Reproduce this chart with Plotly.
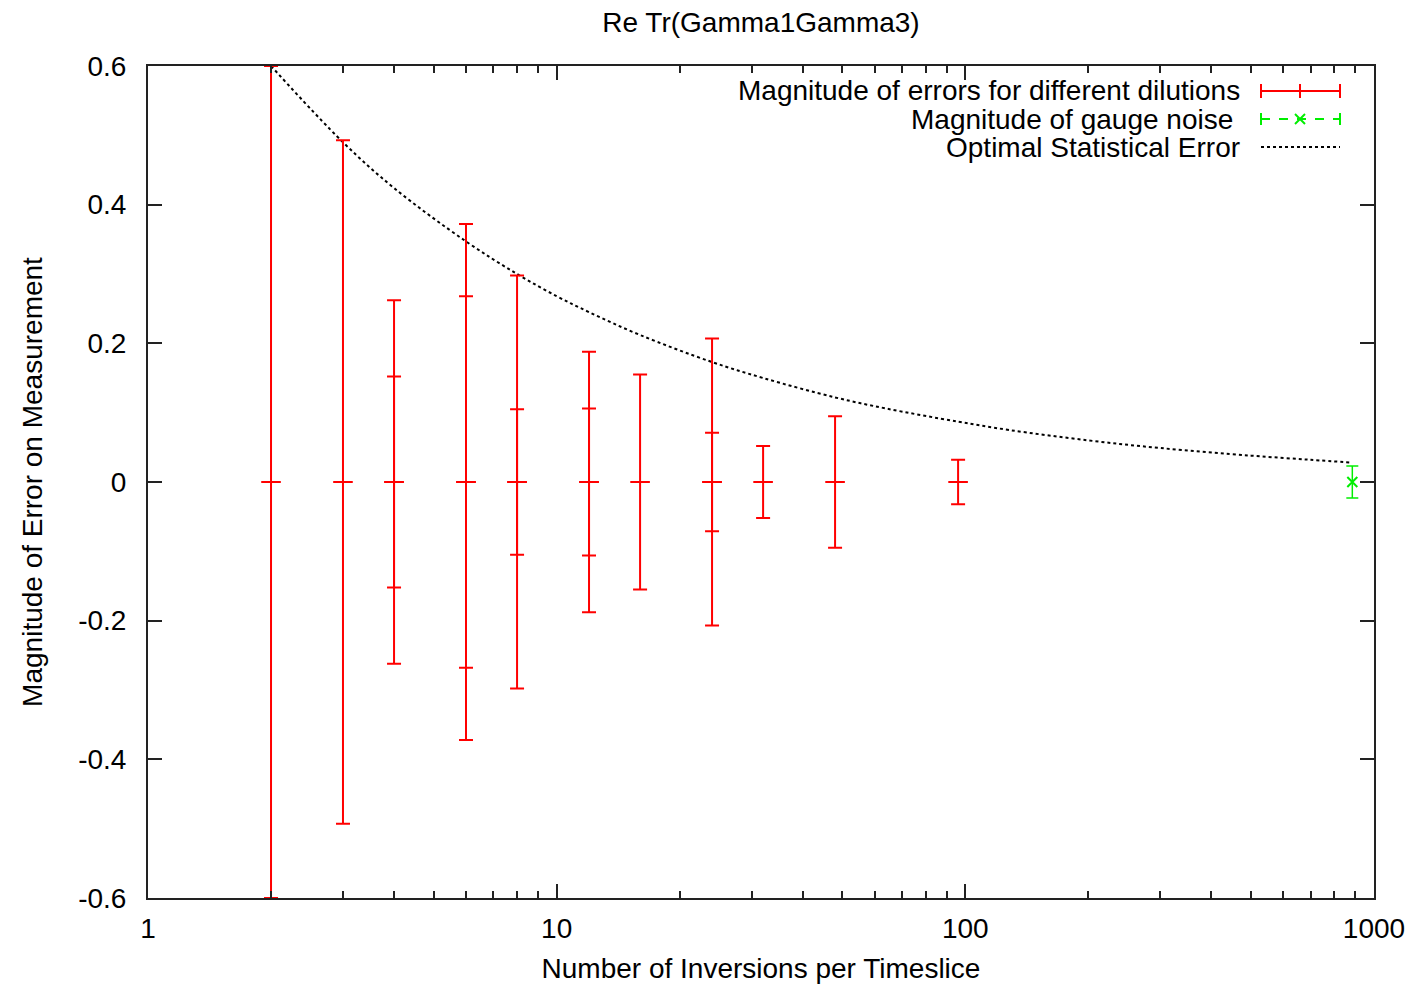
import plotly.graph_objects as go

# Dilution schemes: inversions per timeslice and their error magnitudes
dil_x = [2, 3, 4, 6, 8, 12, 16, 24, 32, 48, 96]
dil_err_outer = [0.60, 0.493, 0.262, 0.372, 0.298, 0.188, 0.155, 0.207, 0.052, 0.095, 0.032]
# second, smaller error for schemes that have one
dil2_x = [4, 6, 8, 12, 24]
dil2_err = [0.152, 0.268, 0.105, 0.106, 0.071]

# gauge noise
gauge_x = [885]
gauge_err = [0.023]

# optimal statistical error curve
opt_x = [2, 3, 4, 6, 8, 10, 12, 16, 24, 32, 48, 64, 96, 128, 200, 300, 500, 700, 885]
opt_y = [0.600, 0.490, 0.424, 0.347, 0.300, 0.268, 0.245, 0.212, 0.173, 0.150, 0.122,
         0.106, 0.087, 0.075, 0.060, 0.049, 0.038, 0.032, 0.028]

xtick_vals = [1, 10, 100, 1000]
xtick_text = ["1", "10", "100", "1000"]
xminor_vals = [m * d for d in (1, 10, 100) for m in range(2, 10)]
ytick_vals = [-0.6, -0.4, -0.2, 0, 0.2, 0.4, 0.6]
ytick_text = ["-0.6", "-0.4", "-0.2", "0", "0.2", "0.4", "0.6"]

FONT = "Liberation Sans, Arial, sans-serif"
FS = 28
RED = "#ff0000"
GREEN = "#00ee00"

W, H = 1422, 995
L, R, T, B = 148, 1374, 66, 898


def px(x):
    return (x - L) / (R - L)


def py(y):
    return (B - y) / (B - T)


fig = go.Figure()

fig.add_trace(go.Scatter(
    x=opt_x, y=opt_y, mode="lines", line=dict(color="black", width=2, dash="dot"),
    line_shape="spline", showlegend=False, hoverinfo="skip"))

fig.add_trace(go.Scatter(
    x=dil_x, y=[0] * len(dil_x), mode="markers",
    marker=dict(symbol="line-ew-open", size=14, line=dict(color=RED, width=2), color=RED),
    error_y=dict(type="data", array=dil_err_outer, symmetric=True, color=RED, thickness=2, width=7),
    showlegend=False))

fig.add_trace(go.Scatter(
    x=dil2_x, y=[0] * len(dil2_x), mode="markers",
    marker=dict(symbol="line-ew-open", size=14, line=dict(color=RED, width=2), color=RED),
    error_y=dict(type="data", array=dil2_err, symmetric=True, color=RED, thickness=2, width=7),
    showlegend=False))

fig.add_trace(go.Scatter(
    x=gauge_x, y=[0] * len(gauge_x), mode="markers",
    marker=dict(symbol="x-thin-open", size=10, line=dict(color=GREEN, width=2), color=GREEN),
    error_y=dict(type="data", array=gauge_err, symmetric=True, color=GREEN, thickness=1.5, width=6),
    showlegend=False))

# key, drawn in the upper-right corner with text to the left of each sample
shapes = []
annotations = []
key_rows = [
    ("Magnitude of errors for different dilutions", 91, 1242),
    ("Magnitude of gauge noise", 119, 1235),
    ("Optimal Statistical Error", 147, 1242),
]
for text, yy, xr in key_rows:
    annotations.append(dict(
        x=px(xr), y=py(yy), xref="paper", yref="paper", text=text, showarrow=False,
        xanchor="right", yanchor="middle", font=dict(family=FONT, size=FS, color="black")))

x0, x1, xm = 1261, 1340, 1300
# red sample
shapes.append(dict(type="line", xref="paper", yref="paper", x0=px(x0), x1=px(x1), y0=py(91), y1=py(91),
                   line=dict(color=RED, width=2)))
for xx in (x0, xm, x1):
    shapes.append(dict(type="line", xref="paper", yref="paper", x0=px(xx), x1=px(xx), y0=py(84), y1=py(98),
                       line=dict(color=RED, width=2)))
# green sample
shapes.append(dict(type="line", xref="paper", yref="paper", x0=px(x0), x1=px(x1), y0=py(119), y1=py(119),
                   line=dict(color=GREEN, width=2, dash="dash")))
for xx in (x0, x1):
    shapes.append(dict(type="line", xref="paper", yref="paper", x0=px(xx), x1=px(xx), y0=py(113), y1=py(125),
                       line=dict(color=GREEN, width=2)))
for dx, dy in ((-5, -5), (-5, 5)):
    shapes.append(dict(type="line", xref="paper", yref="paper", x0=px(xm + dx), x1=px(xm - dx),
                       y0=py(119 + dy), y1=py(119 - dy), line=dict(color=GREEN, width=2)))
# black sample
shapes.append(dict(type="line", xref="paper", yref="paper", x0=px(x0), x1=px(x1), y0=py(147), y1=py(147),
                   line=dict(color="black", width=2, dash="dot")))

fig.update_layout(
    width=W, height=H,
    margin=dict(l=L, r=W - R, t=T, b=H - B),
    paper_bgcolor="white", plot_bgcolor="white",
    font=dict(family=FONT, size=FS, color="black"),
    title=dict(text="Re Tr(Gamma1Gamma3)", x=(L + R) / 2 / W, xanchor="center",
               y=1 - 22 / H, yanchor="middle", font=dict(family=FONT, size=FS)),
    shapes=shapes, annotations=annotations,
    showlegend=False,
)

fig.update_xaxes(
    type="log", range=[0, 3], tickvals=xtick_vals, ticktext=xtick_text,
    ticks="inside", ticklen=14, tickwidth=2, tickcolor="#222",
    minor=dict(tickvals=xminor_vals, ticks="inside", ticklen=7, tickwidth=2, tickcolor="#222",
               showgrid=False),
    showline=True, linecolor="#222", linewidth=2, mirror="allticks",
    showgrid=False, zeroline=False, ticklabelstandoff=4,
    title=dict(text="Number of Inversions per Timeslice", standoff=16, font=dict(family=FONT, size=FS)),
)
fig.update_yaxes(
    range=[-0.6, 0.6], tickvals=ytick_vals, ticktext=ytick_text,
    ticks="inside", ticklen=14, tickwidth=2, tickcolor="#222",
    showline=True, linecolor="#222", linewidth=2, mirror="allticks",
    showgrid=False, zeroline=False, ticklabelstandoff=14,
    title=dict(text="Magnitude of Error on Measurement", standoff=27, font=dict(family=FONT, size=FS)),
)

fig.write_html("out.html")
